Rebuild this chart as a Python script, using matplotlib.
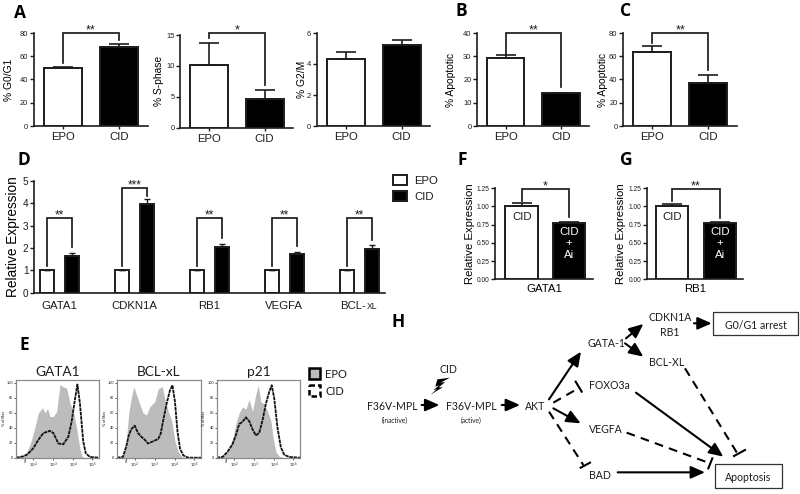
import numpy as np
import matplotlib
matplotlib.use('Agg')
import matplotlib.pyplot as plt
from matplotlib.patches import Rectangle, Polygon

W, H = 800, 494

# panel A
groups_ab = ['EPO', 'CID']
g0g1_vals = [50, 68]
g0g1_errs = [0.5, 2.5]
sphase_vals = [10.2, 4.6]
sphase_errs = [3.5, 1.5]
g2m_vals = [4.3, 5.25]
g2m_errs = [0.5, 0.3]
# panels B, C
apop_b_vals = [29.3, 14]
apop_b_errs = [1.2, 0.4]
apop_c_vals = [63.5, 37]
apop_c_errs = [5.5, 6.5]
# panel D
genes = ['GATA1', 'CDKN1A', 'RB1', 'VEGFA', '']
epo_expr = [1, 1, 1, 1, 1]
epo_expr_errs = [0.03, 0.03, 0.03, 0.03, 0.03]
cid_expr = [1.65, 3.95, 2.03, 1.72, 1.97]
cid_expr_errs = [0.12, 0.25, 0.15, 0.12, 0.15]
gene_stars = ['**', '***', '**', '**', '**']
bracket_tops = [3.36, 4.67, 3.36, 3.36, 3.36]
bracket_right = [2.05, 4.35, 2.45, 2.1, 2.35]
# panels F, G
ai_gata1_vals = [1.0, 0.78]
ai_gata1_errs = [0.05, 0.01]
ai_rb1_vals = [1.0, 0.78]
ai_rb1_errs = [0.04, 0.005]
# panel E, x is channel position in % of the frame width, y is % of max
gata1_fill_x = [0, 5, 9, 13, 17, 21, 27, 32, 35, 38, 41, 45, 49, 53, 57, 61, 65, 69, 73, 77, 80, 85]
gata1_fill_y = [0, 1, 3, 8, 18, 33, 60, 67, 60, 66, 55, 55, 62, 98, 95, 93, 73, 62, 40, 12, 1, 0]
gata1_cid_x = [0, 5, 9, 13, 17, 21, 27, 33, 41, 45, 51, 57, 63, 67, 71, 74, 77, 81, 84, 89, 100]
gata1_cid_y = [0, 1, 2, 4, 8, 13, 24, 33, 36, 33, 19, 18, 28, 48, 78, 98, 73, 22, 6, 1, 0]
bclxl_fill_x = [0, 7, 11, 14, 17, 20, 23, 27, 31, 35, 39, 45, 49, 54, 57, 61, 65, 69, 73, 77, 81]
bclxl_fill_y = [0, 1, 20, 60, 80, 95, 85, 72, 60, 57, 68, 75, 92, 95, 78, 62, 50, 22, 8, 1, 0]
bclxl_cid_x = [0, 7, 11, 14, 17, 21, 25, 29, 33, 37, 41, 45, 49, 52, 55, 59, 63, 66, 69, 72, 75, 79, 85, 100]
bclxl_cid_y = [0, 1, 15, 30, 38, 43, 33, 28, 24, 19, 21, 23, 25, 32, 50, 72, 90, 97, 75, 35, 12, 3, 0, 0]
p21_fill_x = [0, 7, 13, 19, 23, 27, 31, 35, 39, 43, 47, 50, 53, 57, 61, 65, 68, 71, 75, 81]
p21_fill_y = [0, 2, 8, 25, 45, 60, 68, 65, 78, 62, 85, 97, 75, 72, 62, 50, 25, 8, 2, 0]
p21_cid_x = [0, 7, 13, 19, 23, 27, 31, 35, 39, 43, 47, 51, 55, 59, 63, 66, 69, 73, 77, 81, 87, 100]
p21_cid_y = [0, 1, 8, 18, 30, 45, 48, 54, 49, 38, 30, 33, 50, 72, 88, 97, 80, 40, 14, 4, 1, 0]
hist_xticks = [11, 21, 45, 69, 92]
hist_xlabels = ['0', '$10^2$', '$10^3$', '$10^4$', '$10^5$']
hist_yticks = [0, 20, 40, 60, 80, 100]

INK = '#1c1c1c'
plt.rcParams['font.family'] = ['Liberation Sans', 'DejaVu Sans']
plt.rcParams['text.color'] = INK
plt.rcParams['axes.edgecolor'] = INK
plt.rcParams['xtick.color'] = INK
plt.rcParams['ytick.color'] = INK
plt.rcParams['axes.linewidth'] = 1.2

fig = plt.figure(figsize=(W / 100, H / 100), dpi=100)


def px_axes(left, top, right, bottom):
    return fig.add_axes([left / W, 1 - bottom / H, (right - left) / W, (bottom - top) / H])


def bracket(ax, x0, x1, y_left, y_top, y_right, stars, size=9):
    ax.plot([x0, x0, x1, x1], [y_left, y_top, y_top, y_right], color=INK, lw=1.25,
            clip_on=False, solid_joinstyle='miter')
    ax.annotate(stars, ((x0 + x1) / 2, y_top), xytext=(0, -2.5), textcoords='offset points',
                ha='center', va='bottom', fontsize=size, annotation_clip=False)


def bar_panel(rect, vals, errs, ylim, yticks, ylabel, ylab_x, stars, y_left, y_right, xlim=(-0.52, 1.51),
              ticklabels=groups_ab, ylab_size=7.4, tick_size=5.4, y_top=None, yfmt='%g'):
    ax = px_axes(*rect)
    ax.bar([0, 1], vals, width=0.68, color=['white', 'black'], edgecolor=INK, linewidth=1.4)
    for i in range(2):
        ax.errorbar(i, vals[i], yerr=[[0], [errs[i]]], color=INK, lw=1.2, capsize=7, capthick=1.2)
    ax.set_xlim(*xlim)
    ax.set_ylim(*ylim)
    ax.set_yticks(yticks)
    ax.set_yticklabels([yfmt % t for t in yticks], fontsize=tick_size)
    ax.set_xticks([0, 1])
    ax.set_xticklabels(ticklabels, fontsize=8.2)
    ax.tick_params(axis='y', length=3, width=1, pad=1)
    ax.tick_params(axis='x', length=2.5, width=1, pad=1.8)
    ax.set_ylabel(ylabel, fontsize=ylab_size, va='center')
    ax.yaxis.set_label_coords((ylab_x - rect[0]) / (rect[2] - rect[0]), 0.5)
    ax.spines[['top', 'right']].set_visible(False)
    top = ylim[1] if y_top is None else y_top
    if stars:
        bracket(ax, 0, 1, y_left, top, y_right, stars)
    return ax


# panel A
bar_panel((33.5, 33, 148, 126), g0g1_vals, g0g1_errs, (0, 80), [0, 20, 40, 60, 80], '% G0/G1', 9.5, '**', 54, 74)
bar_panel((180, 35, 293, 127.7), sphase_vals, sphase_errs, (0, 15), [0, 5, 10, 15], '% S-phase', 159, '*', 14.5, 6.9, y_top=15.4)
bar_panel((316.7, 33, 430, 126), g2m_vals, g2m_errs, (0, 6), [0, 2, 4, 6], '% G2/M', 301.7, None, 0, 0)
# panels B, C
bar_panel((477, 33, 589, 126), apop_b_vals, apop_b_errs, (0, 40), [0, 10, 20, 30, 40], '% Apoptotic', 450.7, '**', 30.5, 16.7)
bar_panel((623, 33, 737, 126), apop_c_vals, apop_c_errs, (0, 80), [0, 20, 40, 60, 80], '% Apoptotic', 602.7, '**', 71, 48)

# panel D
ax = px_axes(34, 181, 385, 292.7)
pos = np.arange(len(genes))
ax.bar(pos - 1 / 6, epo_expr, width=0.18, color='white', edgecolor=INK, linewidth=1.4)
ax.bar(pos + 1 / 6, cid_expr, width=0.18, color='black', edgecolor=INK, linewidth=1.4)
for i in pos:
    ax.errorbar(i - 1 / 6, epo_expr[i], yerr=[[0], [epo_expr_errs[i]]], color=INK, lw=1, capsize=2.2)
    ax.errorbar(i + 1 / 6, cid_expr[i], yerr=[[0], [cid_expr_errs[i]]], color=INK, lw=1, capsize=2.2)
    bracket(ax, i - 1 / 6, i + 1 / 6, 1.2, bracket_tops[i], bracket_right[i], gene_stars[i], size=8.5)
ax.set_xlim(-0.337, 4.343)
ax.set_ylim(0, 5)
ax.set_yticks([0, 1, 2, 3, 4, 5])
ax.set_yticklabels(['0', '1', '2', '3', '4', '5'], fontsize=7.2)
ax.set_xticks(pos)
ax.set_xticklabels(genes, fontsize=8.2)
ax.tick_params(axis='y', length=3, width=1, pad=1)
ax.tick_params(axis='x', length=0, pad=6)
ax.set_ylabel('Relative Expression', fontsize=9.8, va='center')
ax.yaxis.set_label_coords((13 - 34) / 351, 0.5)
ax.spines[['top', 'right']].set_visible(False)
# last gene label has a small-caps tail
ax.annotate('BCL-', (4.09, 0), xytext=(0, -11.8), textcoords='offset points', ha='right', va='baseline',
            fontsize=8.2, annotation_clip=False)
ax.annotate('XL', (4.09, 0), xytext=(0.3, -11.8), textcoords='offset points', ha='left', va='baseline',
            fontsize=6.2, annotation_clip=False)

# panels F, G
ax_f = bar_panel((495, 188.3, 593, 279.3), ai_gata1_vals, ai_gata1_errs, (0, 1.25), [0, 0.25, 0.5, 0.75, 1, 1.25],
                 'Relative Expression', 470, '*', 1.08, 0.86, xlim=(-0.56, 1.5), ticklabels=['', ''],
                 ylab_size=8.2, tick_size=4.8, y_top=1.235, yfmt='%.2f')
ax_g = bar_panel((646.7, 188.3, 743, 279.3), ai_rb1_vals, ai_rb1_errs, (0, 1.25), [0, 0.25, 0.5, 0.75, 1, 1.25],
                 'Relative Expression', 620.7, '**', 1.08, 0.84, xlim=(-0.53, 1.48), ticklabels=['', ''],
                 ylab_size=8.2, tick_size=4.8, y_top=1.235, yfmt='%.2f')
for a, name in zip([ax_f, ax_g], ['GATA1', 'RB1']):
    a.tick_params(axis='x', length=0)
    a.set_xlabel(name, fontsize=8.2, labelpad=1.5)
    a.text(0, 0.86, 'CID', ha='center', va='center', fontsize=8.2)
    a.text(1, 0.654, 'CID', ha='center', va='center', fontsize=8.2, color='white')
    a.text(1, 0.503, '+', ha='center', va='center', fontsize=8.2, color='white')
    a.text(1, 0.334, 'Ai', ha='center', va='center', fontsize=8.2, color='white')

# panel E
hist_panels = [
    ('GATA1', (16, 380, 99, 457.7), gata1_fill_x, gata1_fill_y, gata1_cid_x, gata1_cid_y),
    ('BCL-xL', (117, 380, 201, 457.7), bclxl_fill_x, bclxl_fill_y, bclxl_cid_x, bclxl_cid_y),
    ('p21', (216.7, 380, 300, 457.7), p21_fill_x, p21_fill_y, p21_cid_x, p21_cid_y),
]
for name, rect, fx, fy, cx, cy in hist_panels:
    ax = px_axes(*rect)
    ax.fill_between(fx, fy, color='#bcbcbc', lw=0)
    ax.plot(cx, cy, color='#111111', lw=1.3, ls=(0, (2, 0.4)))
    ax.set_xlim(0, 100)
    ax.set_ylim(0, 104)
    ax.set_xticks(hist_xticks)
    ax.set_xticklabels(hist_xlabels, fontsize=3)
    ax.set_yticks(hist_yticks)
    ax.set_yticklabels(hist_yticks, fontsize=2.8)
    ax.tick_params(length=1.2, width=0.5, pad=0.8)
    ax.set_ylabel('% of Max', fontsize=2.6, labelpad=0.8)
    for s in ax.spines.values():
        s.set_color('#8a8a8a')
        s.set_linewidth(0.9)
    ax.set_title(name, fontsize=9.8, family=['Lato', 'DejaVu Sans'], pad=3)

# overlay in pixel coordinates: letters, legends, schematic
ov = fig.add_axes([0, 0, 1, 1], facecolor='none')
ov.set_xlim(0, W)
ov.set_ylim(H, 0)
ov.axis('off')
LATO = ['Lato', 'DejaVu Sans']

panel_letters = {'A': (20, 13), 'B': (461, 11), 'C': (626, 11), 'D': (24, 160),
                 'E': (24, 345), 'F': (462, 160), 'G': (626, 160), 'H': (398, 322)}
for letter, (x, y) in panel_letters.items():
    ov.text(x, y, letter, fontsize=12.5, fontweight='bold', family=['Open Sans', 'DejaVu Sans'],
            ha='center', va='center', color='black')

# legend D
ov.add_patch(Rectangle((393, 175), 14, 10, fc='white', ec=INK, lw=1.4))
ov.add_patch(Rectangle((393, 191), 14, 10, fc='black', ec=INK, lw=1.4))
ov.text(414, 180.5, 'EPO', fontsize=8.2, va='center')
ov.text(414, 196.5, 'CID', fontsize=8.2, va='center')
# legend E
ov.add_patch(Rectangle((309, 368), 11, 11, fc='#bcbcbc', ec='black', lw=1.8))
ov.add_patch(Rectangle((309, 385), 11, 11, fc='white', ec='black', lw=1.8, ls=(0, (2.2, 1.2))))
ov.text(325, 374, 'EPO', fontsize=8, family=LATO, va='center')
ov.text(325, 391, 'CID', fontsize=8, family=LATO, va='center')


def hp(x, y):
    return (350 + x / 3, 300 + y / 3)


node_text = [
    ('CDKN1A', 960, 52), ('RB1', 960, 98), ('G0/G1 arrest', 1218, 75),
    ('GATA-1', 770, 130), ('BCL-XL', 950, 188), ('FOXO3a', 777, 256),
    ('VEGFA', 767, 387), ('BAD', 750, 527), ('Apoptosis', 1193, 531),
    ('F36V-MPL', 128, 318), ('F36V-MPL', 363, 318), ('AKT', 556, 318), ('CID', 296, 208),
]
for label, x, y in node_text:
    ov.text(*hp(x, y), label, fontsize=7.6, family=LATO, ha='center', va='center')
ov.text(*hp(135, 360), '(inactive)', fontsize=4.8, family=LATO, ha='center', va='center')
ov.text(*hp(363, 360), '(active)', fontsize=4.8, family=LATO, ha='center', va='center')

for x0, y0, x1, y1 in [(1090, 35, 1345, 105), (1095, 493, 1295, 565)]:
    ov.add_patch(Rectangle(hp(x0, y0), (x1 - x0) / 3, (y1 - y0) / 3, fc='white', ec='#333333', lw=0.9, zorder=0.5))

solid_arrows = [
    (215, 315, 268, 315), (455, 315, 510, 315), (597, 298, 693, 155), (610, 325, 692, 370),
    (828, 115, 880, 72), (825, 130, 880, 170), (1032, 70, 1085, 70),
    (858, 278, 1120, 470), (803, 517, 1065, 517),
]
for x0, y0, x1, y1 in solid_arrows:
    ov.annotate('', xy=hp(x1, y1), xytext=hp(x0, y0),
                arrowprops=dict(arrowstyle='-|>,head_length=0.5,head_width=0.22', mutation_scale=17, lw=1.5,
                                color='black', shrinkA=0, shrinkB=0))

dashed_lines = [(610, 308, 690, 262), (597, 335, 700, 495), (1005, 205, 1165, 465), (830, 398, 1080, 490)]
for x0, y0, x1, y1 in dashed_lines:
    ov.plot(*zip(hp(x0, y0), hp(x1, y1)), color='black', lw=1.5, ls=(0, (4.2, 3)))
t_bars = [(677, 245, 695, 275), (692, 503, 720, 488), (1152, 468, 1185, 450), (1075, 505, 1087, 475)]
for x0, y0, x1, y1 in t_bars:
    ov.plot(*zip(hp(x0, y0), hp(x1, y1)), color='black', lw=1.5)

bolt = [(300, 233), (262, 238), (256, 260), (268, 256), (250, 270), (260, 268), (242, 284),
        (278, 262), (266, 262), (286, 246), (272, 248)]
ov.add_patch(Polygon([hp(x, y) for x, y in bolt], closed=True, fc='black', ec='none'))

fig.savefig('out.png', dpi=100)
